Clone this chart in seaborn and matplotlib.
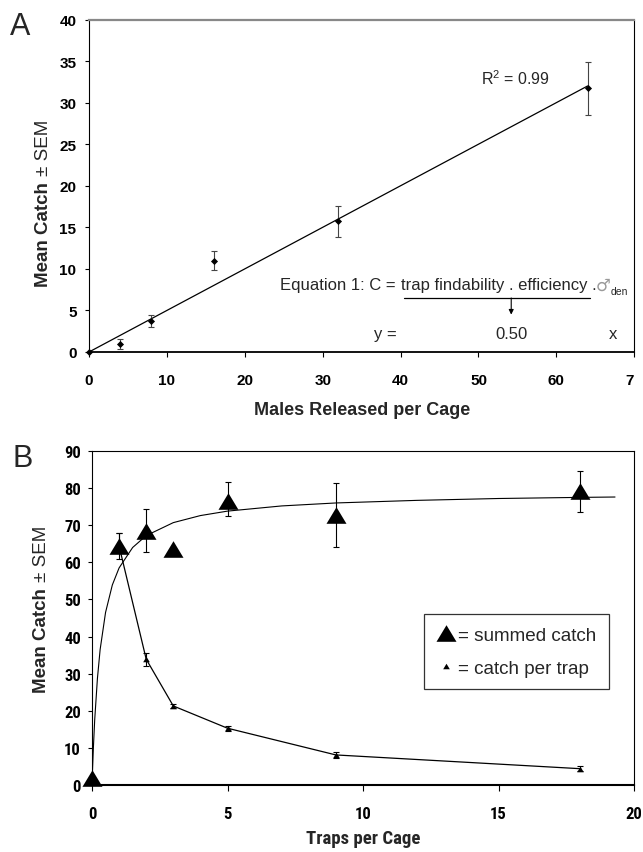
import matplotlib
matplotlib.use("Agg")
import matplotlib.pyplot as plt
import seaborn as sns
from matplotlib import font_manager
from matplotlib.lines import Line2D
from matplotlib.transforms import Bbox, TransformedBbox

# ---------------- data ----------------
# Panel A
males_released = [0, 4, 8, 16, 32, 64]
mean_catch_A = [0.0, 1.0, 3.7, 11.0, 15.7, 31.7]
sem_A = [0.0, 0.6, 0.7, 1.15, 1.85, 3.2]
fit_A_x = [0, 64]
fit_A_y = [0.0, 32.0]
xticks_A = [0, 10, 20, 30, 40, 50, 60, 70]
yticks_A = [0, 5, 10, 15, 20, 25, 30, 35, 40]

# Panel B
traps = [0, 1, 2, 3, 5, 9, 18]
summed_catch = [1.8, 64.4, 68.5, 63.7, 76.6, 72.8, 79.1]
summed_err_low = [0.0, 0.0, 5.6, 0.0, 4.2, 8.7, 5.5]
summed_err_high = [0.0, 3.6, 5.8, 0.0, 5.1, 8.5, 5.4]
traps_per = [1, 2, 3, 5, 9, 18]
catch_per_trap = [64.4, 33.9, 21.3, 15.3, 8.1, 4.4]
catch_per_trap_sem = [3.6, 1.8, 0.6, 0.7, 0.9, 0.6]
fit_B_x = [0, 0.02, 0.05, 0.1, 0.2, 0.3, 0.5, 0.75, 1, 1.5, 2, 3, 4, 5, 7, 9, 12, 15, 18, 19.3]
fit_B_y = [0, 4.3, 9.9, 17.6, 28.7, 36.5, 46.5, 53.9, 58.5, 64.0, 67.2, 70.7, 72.6, 73.8,
           75.2, 76.0, 76.7, 77.2, 77.5, 77.6]
xticks_B = [0, 5, 10, 15, 20]
yticks_B = [0, 10, 20, 30, 40, 50, 60, 70, 80, 90]

# ---------------- style ----------------
sns.set_style("ticks")
avail = {f.name for f in font_manager.fontManager.ttflist}
REG = "Liberation Sans" if "Liberation Sans" in avail else "DejaVu Sans"
NARROW = REG
for cand in ["Liberation Sans Narrow", "Roboto Condensed", "Open Sans Condensed"]:
    if cand in avail:
        NARROW = cand
        break
plt.rcParams["font.family"] = [REG, "DejaVu Sans"]
plt.rcParams["mathtext.fontset"] = "custom"
plt.rcParams["mathtext.rm"] = REG

W, H = 643, 853
fig = plt.figure(figsize=(W / 100, H / 100), dpi=100)

def px_rect(x0, x1, ytop, ybot):
    return [x0 / W, 1 - ybot / H, (x1 - x0) / W, (ybot - ytop) / H]

axA = fig.add_axes(px_rect(89, 634.3, 20.5, 353))
axB = fig.add_axes(px_rect(92, 634, 452, 786))

tri = [(0, 0.83), (-1, -0.83), (1, -0.83)]

# ---------------- panel A ----------------
sns.lineplot(x=fit_A_x, y=fit_A_y, ax=axA, color="black", lw=0.9,
             estimator=None, sort=False)
axA.errorbar(males_released, mean_catch_A, yerr=sem_A, fmt="none",
             ecolor="#444444", elinewidth=0.8, capsize=2.2, capthick=0.8)
sns.scatterplot(x=males_released, y=mean_catch_A, ax=axA, marker="D", s=13,
                color="black", linewidth=0, zorder=5)
for c in axA.collections:
    c.set_clip_on(False)

axA.set_xlim(0, 70)
axA.set_ylim(0, 40)
axA.set_xticks(xticks_A)
axA.set_yticks(yticks_A)
axA.set_xticklabels([str(v) for v in xticks_A], fontfamily=REG, fontweight="bold", fontsize=11)
axA.set_yticklabels([str(v) for v in yticks_A], fontfamily=REG, fontweight="bold", fontsize=11)
axA.tick_params(axis="x", direction="out", length=3.6, width=0.8, pad=11.5, colors="black")
axA.tick_params(axis="y", direction="out", length=3.0, width=0.8, pad=6, colors="black")
for s in ["left", "right"]:
    axA.spines[s].set_color("black")
    axA.spines[s].set_linewidth(0.8)
axA.spines["bottom"].set_color("black")
axA.spines["bottom"].set_linewidth(1.3)
axA.spines["top"].set_color("#888888")
axA.spines["top"].set_linewidth(1.6)
for s in axA.spines.values():
    s.set_visible(True)

# the reference image is cropped right after the "7" of the last tick label
clip_bb = TransformedBbox(Bbox([[0, 0], [634.0 / W, 1]]), fig.transFigure)
for lbl in axA.get_xticklabels():
    lbl.set_clip_on(True)
    lbl.set_clip_box(clip_bb)

axA.set_xlabel("Males Released per Cage", fontfamily=REG, fontweight="bold", fontsize=13)
axA.xaxis.set_label_coords(0.5, -0.1475)
axA.set_ylabel("")

axA.text(50.3, 33.0, r"R$^{\mathregular{2}}$ = 0.99", fontsize=11.5, ha="left", va="center")
axA.text(39.3, 8.1, "Equation 1: C =", fontsize=12, ha="right", va="center")
axA.text(40.0, 8.1, "trap findability . efficiency .", fontsize=12, ha="left", va="center")
axA.text(65.0, 8.1, "\u2642", fontsize=12, ha="left", va="center", color="#9a9a9a",
         family=["DejaVu Sans"])
axA.text(66.9, 7.3, "den", fontsize=7.5, ha="left", va="center")
axA.plot([40.4, 64.3], [6.5, 6.5], color="black", lw=0.9)
axA.annotate("", xy=(54.2, 4.5), xytext=(54.2, 6.5),
             arrowprops=dict(arrowstyle="-|>", color="black", lw=0.8,
                             mutation_scale=7, shrinkA=0, shrinkB=0))
axA.text(38.1, 2.2, "y =", fontsize=12, ha="center", va="center")
axA.text(54.2, 2.2, "0.50", fontsize=12, ha="center", va="center")
axA.text(67.3, 2.2, "x", fontsize=12, ha="center", va="center")

# ---------------- panel B ----------------
sns.lineplot(x=fit_B_x, y=fit_B_y, ax=axB, color="black", lw=0.8,
             estimator=None, sort=False)
sns.lineplot(x=traps_per, y=catch_per_trap, ax=axB, color="black", lw=0.9,
             estimator=None, sort=False)
axB.errorbar(traps, summed_catch, yerr=[summed_err_low, summed_err_high], fmt="none",
             ecolor="black", elinewidth=0.8, capsize=2.5, capthick=0.8)
axB.errorbar(traps_per, catch_per_trap, yerr=catch_per_trap_sem, fmt="none",
             ecolor="black", elinewidth=0.8, capsize=2.5, capthick=0.8)
sns.scatterplot(x=traps_per, y=catch_per_trap, ax=axB, marker=tri, s=4.8 ** 2,
                color="black", linewidth=0, zorder=5)
sns.scatterplot(x=traps, y=summed_catch, ax=axB, marker=tri, s=14.4 ** 2,
                color="black", linewidth=0, zorder=6)
for c in axB.collections:
    c.set_clip_on(False)

axB.set_xlim(0, 20)
axB.set_ylim(0, 90)
axB.set_xticks(xticks_B)
axB.set_yticks(yticks_B)
axB.set_xticklabels([str(v) for v in xticks_B], fontfamily=NARROW, fontweight="bold", fontsize=12)
axB.set_yticklabels([str(v) for v in yticks_B], fontfamily=NARROW, fontweight="bold", fontsize=12)
axB.tick_params(axis="x", direction="out", length=4.3, width=0.8, pad=10.5, colors="black")
axB.tick_params(axis="y", direction="out", length=3.0, width=0.8, pad=5, colors="black")
for s in ["left", "right", "top"]:
    axB.spines[s].set_color("black")
    axB.spines[s].set_linewidth(0.8)
axB.spines["bottom"].set_color("black")
axB.spines["bottom"].set_linewidth(1.5)
for s in axB.spines.values():
    s.set_visible(True)
axB.set_xlabel("Traps per Cage", fontfamily=NARROW, fontweight="bold", fontsize=13.5)
axB.xaxis.set_label_coords(0.5, -0.131)
axB.set_ylabel("")

handles = [
    Line2D([], [], marker=tri, markersize=14.4, color="black", linestyle="none", markeredgewidth=0),
    Line2D([], [], marker=tri, markersize=4.8, color="black", linestyle="none", markeredgewidth=0),
]
leg = axB.legend(handles, ["= summed catch", "= catch per trap"], loc="upper left",
                 bbox_to_anchor=(12.25, 46.0), bbox_transform=axB.transData,
                 prop={"family": REG, "size": 13.6}, frameon=True, fancybox=False,
                 edgecolor="black", borderpad=0.65, labelspacing=0.82,
                 handlelength=1.05, handletextpad=0.1, borderaxespad=0)
leg.get_frame().set_linewidth(0.9)

# ---------------- y labels & panel letters ----------------
fig.canvas.draw()
renderer = fig.canvas.get_renderer()

def ylabel(xc, ybot_px, size):
    t1 = fig.text(xc / W, 1 - ybot_px / H, "Mean Catch", rotation=90, ha="center",
                  va="bottom", fontweight="bold", fontsize=size, family=REG)
    bb = t1.get_window_extent(renderer)
    fig.text(xc / W, (bb.y1 + 6) / H, "\u00b1 SEM", rotation=90, ha="center",
             va="bottom", fontsize=size, family=REG)

ylabel(44, 287, 13.5)
ylabel(41, 693, 13.5)

fig.text(10 / W, 1 - 35 / H, "A", fontsize=22, family=REG, ha="left", va="baseline")
fig.text(12 / W, 1 - 467 / H, "B", fontsize=22, family=REG, ha="left", va="baseline")

fig.savefig("out.png", dpi=100)
